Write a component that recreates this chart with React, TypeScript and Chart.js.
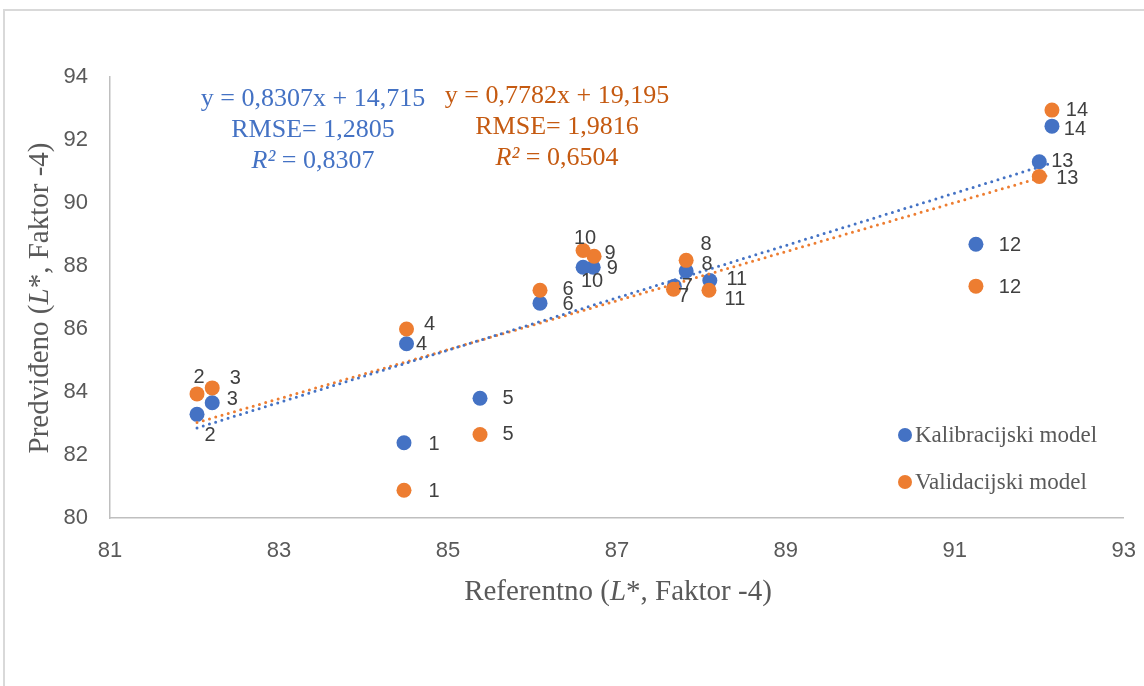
import React, { useEffect, useRef } from "react";
import { Chart, registerables } from "chart.js";

Chart.register(...registerables);

// ---- Data ----
const pointIds = ["1", "2", "3", "4", "5", "6", "7", "8", "9", "10", "11", "12", "13", "14"];

const calibX = [84.48, 82.03, 82.21, 84.51, 85.38, 86.09, 87.68, 87.82, 86.72, 86.6, 88.1, 91.25, 92.0, 92.15];
const calibY = [82.39, 83.29, 83.66, 85.53, 83.8, 86.82, 87.36, 87.84, 87.96, 87.96, 87.54, 88.69, 91.31, 92.44];

const validX = [84.48, 82.03, 82.21, 84.51, 85.38, 86.09, 87.67, 87.82, 86.73, 86.6, 88.09, 91.25, 92.0, 92.15];
const validY = [80.88, 83.94, 84.13, 86.0, 82.65, 87.23, 87.26, 88.18, 88.31, 88.49, 87.23, 87.36, 90.84, 92.95];

// trendline end points (as shown by the equations on the chart)
const calibTrendX = [82.03, 92.15];
const calibTrendY = [82.86, 91.27];
const validTrendX = [82.03, 92.15];
const validTrendY = [83.03, 90.91];

const xTicks = [81, 83, 85, 87, 89, 91, 93];
const yTicks = [80, 82, 84, 86, 88, 90, 92, 94];

const calibLabel = "Kalibracijski model";
const validLabel = "Validacijski model";

// ---- Styling ----
const BLUE = "#4472C4";
const ORANGE = "#ED7D31";
const BLUE_TEXT = "#4472C4";
const ORANGE_TEXT = "#C55A11";
const GRAY_TEXT = "#595959";

// label offsets (px) of each point's number, relative to the point centre
const calibLabelOffsets: [number, number][] = [
  [30, 2], [13, 21], [20, -3], [15, 1], [28, 0], [28, 1], [13, 0],
  [21, -7], [19, 1], [9, 14], [27, -1], [34, 1], [23, 0], [23, 3],
];
const validLabelOffsets: [number, number][] = [
  [30, 1], [2, -16], [23, -9], [23, -5], [28, 0], [28, -1], [10, 7],
  [20, -16], [16, -3], [2, -12], [26, 9], [34, 1], [28, 2], [25, 0],
];

const toPts = (xs: number[], ys: number[]) => xs.map((x, i) => ({ x, y: ys[i] }));

const W = 1144;
const H = 686;
// canvas is a little wider than the page: Chart.js reserves half of the last
// x tick label plus tick padding on the right; the overflow is clipped.
const CANVAS_W = 1156;
const AREA_LEFT = 110;
const AREA_TOP = 77;
const AREA_BOTTOM = 518;

export default function App() {
  const canvasRef = useRef<HTMLCanvasElement | null>(null);

  useEffect(() => {
    const canvas = canvasRef.current;
    if (!canvas) return;

    const offsetsByDataset: Record<number, [number, number][]> = {
      0: calibLabelOffsets,
      1: validLabelOffsets,
    };

    const labelPlugin = {
      id: "pointNumberLabels",
      afterDatasetsDraw(chart: any) {
        const ctx = chart.ctx;
        ctx.save();
        ctx.font = '20px "Liberation Sans", Arial, sans-serif';
        ctx.fillStyle = "#404040";
        ctx.textAlign = "center";
        ctx.textBaseline = "middle";
        Object.keys(offsetsByDataset).forEach((k) => {
          const di = Number(k);
          const offs = offsetsByDataset[di];
          const meta = chart.getDatasetMeta(di);
          meta.data.forEach((el: any, i: number) => {
            ctx.fillText(pointIds[i], el.x + offs[i][0], el.y + offs[i][1]);
          });
        });
        ctx.restore();
      },
    };

    const chart = new Chart(canvas, {
      type: "scatter",
      data: {
        datasets: [
          {
            label: calibLabel,
            data: toPts(calibX, calibY),
            backgroundColor: BLUE,
            borderColor: BLUE,
            borderWidth: 0,
            pointRadius: 7.5,
            pointHoverRadius: 7.5,
            order: 2,
          },
          {
            label: validLabel,
            data: toPts(validX, validY),
            backgroundColor: ORANGE,
            borderColor: ORANGE,
            borderWidth: 0,
            pointRadius: 7.5,
            pointHoverRadius: 7.5,
            order: 1,
          },
          {
            label: "Linear (" + calibLabel + ")",
            data: toPts(calibTrendX, calibTrendY),
            showLine: true,
            borderColor: BLUE,
            borderWidth: 3,
            borderDash: [0, 6.5],
            borderCapStyle: "round",
            pointRadius: 0,
            fill: false,
            order: 0,
          },
          {
            label: "Linear (" + validLabel + ")",
            data: toPts(validTrendX, validTrendY),
            showLine: true,
            borderColor: ORANGE,
            borderWidth: 3,
            borderDash: [0, 6.5],
            borderCapStyle: "round",
            pointRadius: 0,
            fill: false,
            order: 0,
          },
        ] as any,
      },
      options: {
        animation: false,
        responsive: false,
        maintainAspectRatio: false,
        layout: { padding: { left: 0, top: AREA_TOP, right: 0, bottom: 0 } },
        plugins: {
          legend: { display: false },
          tooltip: { enabled: false },
          title: { display: false },
        },
        scales: {
          x: {
            type: "linear",
            min: xTicks[0],
            max: xTicks[xTicks.length - 1],
            afterBuildTicks: (scale: any) => {
              scale.ticks = xTicks.map((v) => ({ value: v }));
            },
            afterFit: (scale: any) => {
              scale.height = H - AREA_BOTTOM;
            },
            grid: { color: "transparent", drawTicks: false },
            border: { display: true, color: "#BFBFBF", width: 1.5 },
            ticks: {
              color: GRAY_TEXT,
              font: { family: '"Liberation Sans", Arial, sans-serif', size: 22 },
              padding: 20,
              maxRotation: 0,
              autoSkip: false,
            },
          },
          y: {
            type: "linear",
            min: yTicks[0],
            max: yTicks[yTicks.length - 1],
            afterBuildTicks: (scale: any) => {
              scale.ticks = yTicks.map((v) => ({ value: v }));
            },
            afterFit: (scale: any) => {
              scale.width = AREA_LEFT;
            },
            grid: { color: "transparent", drawTicks: false },
            border: { display: true, color: "#BFBFBF", width: 1.5 },
            ticks: {
              color: GRAY_TEXT,
              font: { family: '"Liberation Sans", Arial, sans-serif', size: 22 },
              padding: 22,
              autoSkip: false,
            },
          },
        },
      } as any,
      plugins: [labelPlugin],
    });

    return () => {
      chart.destroy();
    };
  }, []);

  const serif = '"Liberation Serif", "Times New Roman", serif';

  return (
    <div
      style={{
        position: "fixed",
        left: 0,
        top: 0,
        width: W,
        height: H,
        background: "#ffffff",
        overflow: "hidden",
      }}
    >
      {/* chart frame (top and left edges visible) */}
      <div
        style={{
          position: "absolute",
          left: 3,
          top: 9,
          width: W + 50,
          height: H + 50,
          borderTop: "2px solid #D9D9D9",
          borderLeft: "2px solid #D9D9D9",
          boxSizing: "border-box",
        }}
      />
      <canvas
        ref={canvasRef}
        width={CANVAS_W}
        height={H}
        style={{ position: "absolute", left: 0, top: 0, width: CANVAS_W, height: H }}
      />

      {/* regression annotations */}
      <div
        style={{
          position: "absolute",
          left: 313 - 160,
          top: 82,
          width: 320,
          textAlign: "center",
          fontFamily: serif,
          fontSize: 26,
          lineHeight: "31px",
          color: BLUE_TEXT,
          whiteSpace: "nowrap",
        }}
      >
        <div>y = 0,8307x + 14,715</div>
        <div>RMSE= 1,2805</div>
        <div>
          <i>R²</i> = 0,8307
        </div>
      </div>
      <div
        style={{
          position: "absolute",
          left: 557 - 160,
          top: 79,
          width: 320,
          textAlign: "center",
          fontFamily: serif,
          fontSize: 26,
          lineHeight: "31px",
          color: ORANGE_TEXT,
          whiteSpace: "nowrap",
        }}
      >
        <div>y = 0,7782x + 19,195</div>
        <div>RMSE= 1,9816</div>
        <div>
          <i>R²</i> = 0,6504
        </div>
      </div>

      {/* legend */}
      {[
        { label: calibLabel, color: BLUE, y: 435 },
        { label: validLabel, color: ORANGE, y: 482 },
      ].map((item) => (
        <div
          key={item.label}
          style={{
            position: "absolute",
            left: 898,
            top: item.y - 15,
            height: 30,
            display: "flex",
            alignItems: "center",
            fontFamily: serif,
            fontSize: 23,
            color: GRAY_TEXT,
            whiteSpace: "nowrap",
          }}
        >
          <span
            style={{
              display: "inline-block",
              width: 14,
              height: 14,
              borderRadius: "50%",
              background: item.color,
              marginRight: 3,
            }}
          />
          <span>{item.label}</span>
        </div>
      ))}

      {/* axis titles */}
      <div
        style={{
          position: "absolute",
          left: 618 - 300,
          top: 590 - 17,
          width: 600,
          height: 34,
          lineHeight: "34px",
          textAlign: "center",
          fontFamily: serif,
          fontSize: 29,
          color: GRAY_TEXT,
          whiteSpace: "nowrap",
        }}
      >
        Referentno (<i>L</i>*, Faktor -4)
      </div>
      <div
        style={{
          position: "absolute",
          left: 38 - 300,
          top: 298 - 17,
          width: 600,
          height: 34,
          lineHeight: "34px",
          textAlign: "center",
          fontFamily: serif,
          fontSize: 29,
          color: GRAY_TEXT,
          whiteSpace: "nowrap",
          transform: "rotate(-90deg)",
          transformOrigin: "50% 50%",
        }}
      >
        Predviđeno (<i>L</i>*, Faktor -4)
      </div>
    </div>
  );
}
